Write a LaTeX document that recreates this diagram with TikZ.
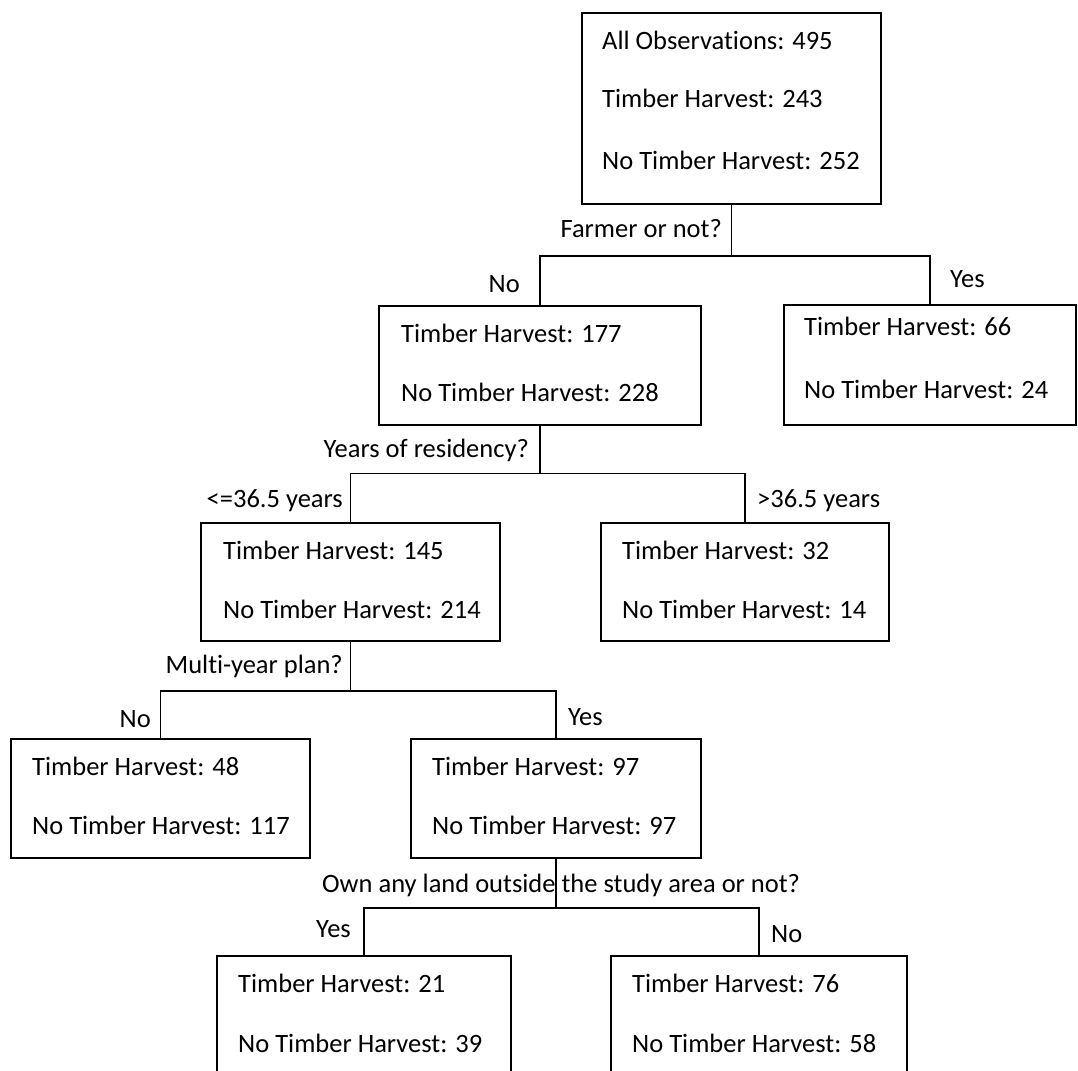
\documentclass[tikz,border=0pt]{standalone}
\usepackage{fontspec}
\setmainfont{Carlito}[Ligatures=NoCommon]
\newcommand\dfont{\fontsize{26.5pt}{32pt}\selectfont}
\begin{document}
\begin{tikzpicture}[x=1pt,y=-1pt,
  box/.style={draw=black, line width=1.6pt, rectangle, inner sep=0pt},
  txt/.style={inner sep=0pt, anchor=base west, font=\dfont},
  lbll/.style={inner sep=0pt, anchor=base east, font=\dfont},
  lblr/.style={inner sep=0pt, anchor=base west, font=\dfont},
  conn/.style={draw=black, line width=1.6pt}]
\useasboundingbox (0,0) rectangle (1078,1070);
\clip (0,0) rectangle (1078,1070);
\fill[white] (0,0) rectangle (1078,1070);

% boxes
\node[box, minimum width=299pt, minimum height=191pt] (root) at (731.5,108.5) {};
\node[box, minimum width=322pt, minimum height=119pt] (b2) at (540,365.5) {};
\node[box, minimum width=292pt, minimum height=120pt] (bY) at (930,365) {};
\node[box, minimum width=299pt, minimum height=118pt] (b3) at (350.5,582) {};
\node[box, minimum width=288pt, minimum height=118pt] (b4) at (745,582) {};
\node[box, minimum width=299pt, minimum height=119pt] (b5) at (160.5,798.5) {};
\node[box, minimum width=290pt, minimum height=119pt] (b6) at (556,798.5) {};
\node[box, minimum width=294pt, minimum height=119pt] (b7) at (364,1015.5) {};
\node[box, minimum width=296pt, minimum height=119pt] (b8) at (759,1015.5) {};

% box texts
\node[txt] (r1) at (602,50) {All Observations: 495};
\node[txt] (r2) at (602,108) {Timber Harvest: 243};
\node[txt] (r3) at (602,169) {No Timber Harvest: 252};
\node[txt] (b2a) at (401,342) {Timber Harvest: 177};
\node[txt] (b2b) at (401,401) {No Timber Harvest: 228};
\node[txt] (bYa) at (804,335) {Timber Harvest: 66};
\node[txt] (bYb) at (804,398) {No Timber Harvest: 24};
\node[txt] (b3a) at (223,559) {Timber Harvest: 145};
\node[txt] (b3b) at (223,618) {No Timber Harvest: 214};
\node[txt] (b4a) at (622,559) {Timber Harvest: 32};
\node[txt] (b4b) at (622,618) {No Timber Harvest: 14};
\node[txt] (b5a) at (32,775) {Timber Harvest: 48};
\node[txt] (b5b) at (32,834) {No Timber Harvest: 117};
\node[txt] (b6a) at (432,775) {Timber Harvest: 97};
\node[txt] (b6b) at (432,834) {No Timber Harvest: 97};
\node[txt] (b7a) at (238,992) {Timber Harvest: 21};
\node[txt] (b7b) at (238,1052) {No Timber Harvest: 39};
\node[txt] (b8a) at (632,992) {Timber Harvest: 76};
\node[txt] (b8b) at (632,1052) {No Timber Harvest: 58};

% split points
\coordinate (s1) at (731.5,256);
\coordinate (s2) at (540,473.5);
\coordinate (s3) at (350.5,691);
\coordinate (s4) at (556,908);

% connectors
\draw[conn] (root.south) -- (s1);
\draw[conn] (b2.north) |- (s1) -| (bY.north);
\draw[conn] (b2.south) -- (s2);
\draw[conn] (b3.north) |- (s2) -| (b4.north);
\draw[conn] (b3.south) -- (s3);
\draw[conn] (b5.north) |- (s3) -| (b6.north);
\draw[conn] (b6.south) -- (s4);
\draw[conn] (b7.north) |- (s4) -| (b8.north);

% labels
\node[lbll] (q1) at (722,237) {Farmer or not?};
\node[lbll] (l1) at (520,292) {No};
\node[lblr] (r1l) at (950,287) {Yes};
\node[lbll] (q2) at (529,457) {Years of residency?};
\node[lbll] (l2) at (343,507) {<=36.5 years};
\node[lblr] (r2l) at (757,507) {>36.5 years};
\node[lbll] (q3) at (343,673) {Multi-year plan?};
\node[lbll] (l3) at (151,727) {No};
\node[lblr] (r3l) at (568,725) {Yes};
\node[lblr] (q4) at (322,892) {Own any land outside the study area or not?};
\node[lbll] (l4) at (351,937) {Yes};
\node[lblr] (r4l) at (771,942) {No};
\end{tikzpicture}
\end{document}
